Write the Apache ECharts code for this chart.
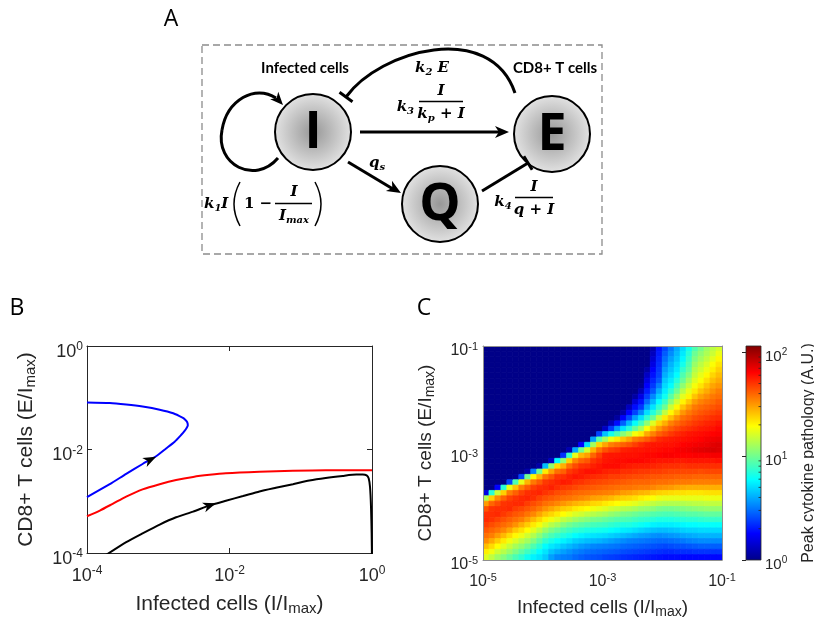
<!DOCTYPE html>
<html>
<head>
<meta charset="utf-8">
<title>Figure</title>
<script src="https://cdn.jsdelivr.net/npm/echarts@6.0.0/dist/echarts.min.js"></script>
<style>
html,body{margin:0;padding:0;background:#ffffff;}
#chart{width:814px;height:628px;}
</style>
</head>
<body>
<div id="chart"></div>
<script>
// ===== Panel B: phase-plane trajectories (log10 values) =====
const blueLogI  = [-4.00,-3.68,-3.45,-3.22,-3.03,-2.89,-2.77,-2.68,-2.63,-2.60,-2.585,-2.595,-2.625,-2.66,-2.79,-2.98,-3.22,-3.45,-3.68,-4.00];
const blueLogE  = [-2.92,-2.67,-2.47,-2.28,-2.13,-1.98,-1.85,-1.72,-1.64,-1.58,-1.53,-1.47,-1.42,-1.385,-1.30,-1.23,-1.17,-1.13,-1.10,-1.09];
const redLogI   = [-4.00,-3.82,-3.64,-3.45,-3.22,-2.98,-2.75,-2.51,-2.28,-2.05,-1.58,-1.11,-0.65,0.00];
const redLogE   = [-3.29,-3.18,-3.05,-2.91,-2.77,-2.67,-2.59,-2.53,-2.49,-2.46,-2.43,-2.41,-2.40,-2.40];
const blackLogI = [-3.78,-3.45,-3.22,-2.98,-2.75,-2.51,-2.28,-2.05,-1.81,-1.58,-1.35,-1.11,-0.88,-0.65,-0.41,-0.22,-0.13,-0.075,-0.047,-0.028,-0.014,-0.005,0.00];
const blackLogE = [-4.08,-3.79,-3.62,-3.45,-3.31,-3.20,-3.08,-2.99,-2.90,-2.81,-2.74,-2.67,-2.60,-2.55,-2.51,-2.485,-2.485,-2.50,-2.555,-2.72,-3.10,-3.62,-4.13];
// direction arrows on the trajectories: tip and a point behind the tip
const arrowTipLogI  = [-3.03, -2.19];
const arrowTipLogE  = [-2.14, -3.04];
const arrowBackLogI = [-3.25, -2.40];
const arrowBackLogE = [-2.29, -3.14];
const panelBTicks = [1e-4, 1e-2, 1];

// ===== Panel C: peak cytokine pathology (log10), one array per column of I, E from top to bottom =====
const heatLogI = [-4.95,-4.85,-4.75,-4.65,-4.55,-4.45,-4.35,-4.25,-4.15,-4.05,-3.95,-3.85,-3.75,-3.65,-3.55,-3.45,-3.35,-3.25,-3.15,-3.05,
                  -2.95,-2.85,-2.75,-2.65,-2.55,-2.45,-2.35,-2.25,-2.15,-2.05,-1.95,-1.85,-1.75,-1.65,-1.55,-1.45,-1.35,-1.25,-1.15,-1.05];
const heatLogE = [-1.05,-1.15,-1.25,-1.35,-1.45,-1.55,-1.65,-1.75,-1.85,-1.95,-2.05,-2.15,-2.25,-2.35,-2.45,-2.55,-2.65,-2.75,-2.85,-2.95,
                  -3.05,-3.15,-3.25,-3.35,-3.45,-3.55,-3.65,-3.75,-3.85,-3.95,-4.05,-4.15,-4.25,-4.35,-4.45,-4.55,-4.65,-4.75,-4.85,-4.95];
const heatHalfStep = 0.05;
const pathologyLog10ByColumn = [
 [0,0,0,0,0,0,0,0,0,0,0,0,0,0,0,0,0,0,0,0,0,0,0,0,0,0,0,0.20,1.12,1.49,1.64,1.71,1.72,1.68,1.63,1.58,1.52,1.42,1.32,1.22],
 [0,0,0,0,0,0,0,0,0,0,0,0,0,0,0,0,0,0,0,0,0,0,0,0,0,0,0,0.85,1.38,1.60,1.70,1.71,1.70,1.65,1.60,1.55,1.46,1.36,1.26,1.16],
 [0,0,0,0,0,0,0,0,0,0,0,0,0,0,0,0,0,0,0,0,0,0,0,0,0,0,0.26,1.18,1.52,1.65,1.71,1.72,1.67,1.62,1.57,1.49,1.39,1.29,1.19,1.09],
 [0,0,0,0,0,0,0,0,0,0,0,0,0,0,0,0,0,0,0,0,0,0,0,0,0,0,0.85,1.38,1.60,1.70,1.71,1.69,1.64,1.59,1.53,1.43,1.33,1.23,1.14,1.04],
 [0,0,0,0,0,0,0,0,0,0,0,0,0,0,0,0,0,0,0,0,0,0,0,0,0,0.39,1.24,1.55,1.67,1.71,1.72,1.66,1.61,1.56,1.47,1.36,1.26,1.17,1.08,0.98],
 [0,0,0,0,0,0,0,0,0,0,0,0,0,0,0,0,0,0,0,0,0,0,0,0,0.02,0.92,1.41,1.61,1.70,1.72,1.68,1.63,1.58,1.51,1.40,1.30,1.21,1.11,1.02,0.92],
 [0,0,0,0,0,0,0,0,0,0,0,0,0,0,0,0,0,0,0,0,0,0,0,0,0.39,1.24,1.55,1.67,1.72,1.72,1.66,1.61,1.55,1.45,1.35,1.25,1.15,1.06,0.96,0.87],
 [0,0,0,0,0,0,0,0,0,0,0,0,0,0,0,0,0,0,0,0,0,0,0,0.07,1.00,1.44,1.62,1.71,1.73,1.68,1.63,1.57,1.49,1.39,1.29,1.19,1.10,1.00,0.90,0.80],
 [0,0,0,0,0,0,0,0,0,0,0,0,0,0,0,0,0,0,0,0,0,0,0,0.52,1.30,1.56,1.68,1.72,1.71,1.65,1.60,1.53,1.43,1.33,1.23,1.13,1.03,0.93,0.84,0.75],
 [0,0,0,0,0,0,0,0,0,0,0,0,0,0,0,0,0,0,0,0,0,0,0.07,1.00,1.44,1.62,1.71,1.73,1.67,1.62,1.56,1.47,1.37,1.27,1.16,1.05,0.95,0.86,0.77,0.72],
 [0,0,0,0,0,0,0,0,0,0,0,0,0,0,0,0,0,0,0,0,0,0,0.64,1.33,1.57,1.69,1.72,1.70,1.64,1.58,1.51,1.41,1.31,1.20,1.08,0.97,0.87,0.77,0.72,0.67],
 [0,0,0,0,0,0,0,0,0,0,0,0,0,0,0,0,0,0,0,0,0,0.13,1.06,1.47,1.63,1.71,1.74,1.68,1.62,1.56,1.47,1.37,1.26,1.14,1.02,0.92,0.82,0.73,0.65,0.58],
 [0,0,0,0,0,0,0,0,0,0,0,0,0,0,0,0,0,0,0,0,0,0.77,1.36,1.58,1.70,1.73,1.71,1.65,1.60,1.53,1.43,1.33,1.22,1.10,0.98,0.88,0.78,0.70,0.61,0.53],
 [0,0,0,0,0,0,0,0,0,0,0,0,0,0,0,0,0,0,0,0,0.35,1.06,1.45,1.61,1.71,1.75,1.69,1.64,1.58,1.50,1.39,1.29,1.16,1.04,0.93,0.84,0.75,0.66,0.58,0.51],
 [0,0,0,0,0,0,0,0,0,0,0,0,0,0,0,0,0,0,0,0.09,0.89,1.38,1.58,1.69,1.74,1.74,1.68,1.62,1.57,1.47,1.37,1.25,1.13,1.00,0.90,0.81,0.72,0.63,0.55,0.50],
 [0,0,0,0,0,0,0,0,0,0,0,0,0,0,0,0,0,0,0,0.60,1.24,1.53,1.65,1.72,1.76,1.71,1.66,1.60,1.55,1.44,1.33,1.21,1.09,0.97,0.87,0.77,0.68,0.60,0.52,0.47],
 [0,0,0,0,0,0,0,0,0,0,0,0,0,0,0,0,0,0,0.26,1.00,1.43,1.60,1.70,1.75,1.75,1.70,1.64,1.59,1.53,1.42,1.31,1.19,1.06,0.95,0.85,0.75,0.66,0.57,0.50,0.45],
 [0,0,0,0,0,0,0,0,0,0,0,0,0,0,0,0,0,0,0.71,1.20,1.48,1.63,1.71,1.77,1.73,1.68,1.63,1.58,1.51,1.40,1.29,1.16,1.04,0.93,0.83,0.73,0.64,0.55,0.48,0.43],
 [0,0,0,0,0,0,0,0,0,0,0,0,0,0,0,0,0,0.58,1.10,1.44,1.60,1.70,1.74,1.77,1.72,1.67,1.62,1.57,1.48,1.37,1.26,1.14,1.01,0.91,0.82,0.72,0.63,0.53,0.47,0.42],
 [0,0,0,0,0,0,0,0,0,0,0,0,0,0,0,0,0.39,0.95,1.37,1.57,1.68,1.73,1.76,1.76,1.71,1.66,1.61,1.56,1.47,1.36,1.24,1.12,1.00,0.90,0.81,0.71,0.62,0.52,0.46,0.41],
 [0,0,0,0,0,0,0,0,0,0,0,0,0,0,0,0.13,0.65,1.10,1.47,1.64,1.75,1.76,1.78,1.74,1.70,1.65,1.60,1.55,1.45,1.33,1.22,1.10,0.98,0.89,0.80,0.70,0.60,0.51,0.45,0.39],
 [0,0,0,0,0,0,0,0,0,0,0,0,0,0,0.11,0.37,0.81,1.25,1.55,1.68,1.76,1.77,1.78,1.73,1.68,1.64,1.59,1.54,1.43,1.31,1.19,1.07,0.96,0.87,0.78,0.68,0.58,0.50,0.44,0.38],
 [0,0,0,0,0,0,0,0,0,0,0,0,0,0.05,0.28,0.57,0.92,1.33,1.58,1.70,1.76,1.78,1.78,1.73,1.68,1.63,1.58,1.52,1.40,1.29,1.17,1.05,0.94,0.85,0.76,0.66,0.56,0.49,0.43,0.37],
 [0,0,0,0,0,0,0,0,0,0,0,0,0.07,0.25,0.45,0.72,1.04,1.41,1.61,1.74,1.77,1.78,1.76,1.71,1.67,1.62,1.57,1.49,1.38,1.26,1.14,1.02,0.93,0.83,0.74,0.64,0.54,0.47,0.41,0.35],
 [0,0,0,0,0,0,0,0,0,0,0,0.12,0.26,0.40,0.63,0.85,1.13,1.47,1.64,1.75,1.77,1.79,1.75,1.71,1.66,1.61,1.57,1.48,1.37,1.25,1.13,1.01,0.92,0.83,0.73,0.62,0.52,0.46,0.40,0.34],
 [0,0,0,0,0,0,0,0,0,0.06,0.17,0.28,0.39,0.58,0.78,0.98,1.27,1.55,1.68,1.76,1.77,1.79,1.74,1.70,1.65,1.60,1.56,1.46,1.35,1.23,1.11,0.99,0.90,0.81,0.71,0.60,0.51,0.45,0.39,0.33],
 [0,0,0,0,0,0,0,0.02,0.10,0.20,0.29,0.37,0.53,0.71,0.90,1.11,1.33,1.58,1.72,1.76,1.78,1.79,1.74,1.69,1.65,1.60,1.55,1.44,1.32,1.20,1.08,0.97,0.88,0.79,0.69,0.58,0.50,0.44,0.38,0.32],
 [0,0,0,0,0.06,0.13,0.19,0.25,0.31,0.38,0.47,0.59,0.71,0.87,1.06,1.28,1.46,1.62,1.75,1.77,1.79,1.78,1.74,1.69,1.64,1.60,1.55,1.43,1.30,1.18,1.07,0.96,0.87,0.77,0.67,0.57,0.49,0.43,0.37,0.31],
 [0.08,0.12,0.16,0.20,0.25,0.29,0.33,0.37,0.43,0.53,0.62,0.72,0.84,0.99,1.22,1.40,1.54,1.67,1.76,1.77,1.79,1.77,1.73,1.68,1.63,1.59,1.53,1.40,1.28,1.16,1.05,0.94,0.85,0.75,0.65,0.55,0.48,0.42,0.36,0.30],
 [0.29,0.31,0.33,0.35,0.37,0.39,0.43,0.51,0.60,0.68,0.77,0.87,0.97,1.18,1.37,1.50,1.61,1.72,1.76,1.78,1.80,1.76,1.72,1.68,1.63,1.58,1.51,1.38,1.25,1.14,1.02,0.93,0.83,0.74,0.64,0.54,0.47,0.41,0.35,0.29],
 [0.40,0.44,0.48,0.52,0.57,0.61,0.66,0.70,0.74,0.80,0.89,0.99,1.16,1.33,1.45,1.57,1.65,1.74,1.77,1.79,1.81,1.76,1.71,1.67,1.62,1.58,1.50,1.37,1.24,1.13,1.01,0.92,0.83,0.74,0.64,0.55,0.47,0.40,0.34,0.28],
 [0.50,0.54,0.58,0.62,0.65,0.69,0.73,0.77,0.86,0.95,1.05,1.18,1.30,1.42,1.54,1.62,1.69,1.75,1.77,1.79,1.81,1.76,1.71,1.66,1.62,1.57,1.49,1.36,1.24,1.13,1.01,0.92,0.83,0.74,0.65,0.56,0.48,0.41,0.34,0.28],
 [0.60,0.63,0.66,0.70,0.73,0.77,0.84,0.91,0.99,1.09,1.19,1.30,1.40,1.51,1.59,1.66,1.72,1.76,1.78,1.81,1.80,1.75,1.71,1.66,1.61,1.56,1.47,1.35,1.24,1.13,1.02,0.93,0.84,0.75,0.66,0.57,0.49,0.42,0.35,0.28],
 [0.70,0.73,0.76,0.81,0.87,0.93,0.98,1.06,1.14,1.23,1.31,1.41,1.50,1.58,1.63,1.69,1.74,1.77,1.80,1.82,1.80,1.75,1.70,1.66,1.61,1.56,1.46,1.35,1.24,1.13,1.03,0.94,0.85,0.76,0.68,0.59,0.50,0.42,0.35,0.27],
 [0.81,0.85,0.89,0.93,0.97,1.03,1.10,1.17,1.24,1.31,1.40,1.49,1.56,1.61,1.66,1.71,1.76,1.78,1.81,1.83,1.80,1.76,1.71,1.66,1.61,1.56,1.45,1.34,1.24,1.14,1.04,0.95,0.86,0.77,0.69,0.60,0.52,0.43,0.35,0.27],
 [0.93,0.99,1.03,1.08,1.13,1.17,1.22,1.27,1.33,1.41,1.49,1.56,1.60,1.65,1.69,1.73,1.77,1.79,1.82,1.85,1.81,1.76,1.71,1.66,1.60,1.55,1.45,1.34,1.24,1.15,1.05,0.95,0.86,0.77,0.69,0.61,0.53,0.44,0.36,0.27],
 [1.01,1.06,1.10,1.15,1.19,1.24,1.28,1.34,1.41,1.48,1.54,1.59,1.63,1.67,1.71,1.75,1.78,1.80,1.83,1.86,1.81,1.76,1.71,1.65,1.60,1.55,1.45,1.34,1.24,1.15,1.06,0.96,0.87,0.78,0.70,0.62,0.54,0.45,0.36,0.27],
 [1.09,1.12,1.16,1.21,1.25,1.30,1.35,1.41,1.46,1.52,1.57,1.61,1.65,1.69,1.73,1.76,1.79,1.82,1.84,1.87,1.81,1.76,1.71,1.66,1.60,1.55,1.45,1.35,1.25,1.16,1.07,0.97,0.88,0.78,0.70,0.62,0.54,0.45,0.36,0.27],
 [1.15,1.18,1.23,1.28,1.32,1.37,1.42,1.47,1.51,1.56,1.59,1.63,1.67,1.71,1.74,1.77,1.80,1.83,1.86,1.88,1.82,1.76,1.71,1.66,1.60,1.55,1.45,1.35,1.25,1.16,1.07,0.97,0.88,0.78,0.70,0.62,0.54,0.45,0.36,0.27],
 [1.20,1.25,1.30,1.34,1.38,1.42,1.46,1.50,1.55,1.58,1.62,1.65,1.69,1.72,1.76,1.79,1.81,1.84,1.87,1.87,1.82,1.77,1.71,1.66,1.60,1.55,1.45,1.35,1.25,1.16,1.07,0.97,0.88,0.78,0.70,0.62,0.54,0.45,0.36,0.27]
];
const panelCTicks = [1e-5, 1e-3, 1e-1];
const colorbarMaxLog10 = 2.06;
const colorbarTicks = [1, 10, 100];
const colorbarMinorTicks = [2,3,4,5,6,7,8,9,20,30,40,50,60,70,80,90];
const jetColors = ['#000088','#0000ff','#0080ff','#00ffff','#80ff80','#ffff00','#ff8000','#ff0000','#800000'];

// ===== styling =====
const FONT = '"Liberation Sans", Arial, Helvetica, sans-serif';
const TXT = '#262626';
const MATH = '"DejaVu Serif", serif';

const toPow = (a) => Math.pow(10, a);
const pairs = (xs, ys) => xs.map((x, i) => [toPow(x), toPow(ys[i])]);

function powerFormatter(allowed) {
  return function (v) {
    const e = Math.round(Math.log10(v));
    const ok = allowed.some(t => Math.abs(Math.log10(t) - e) < 1e-6);
    return ok ? '{b|10}{s|' + e + '}' : '';
  };
}
function tickRich(base, sup, lh) {
  return {
    b: {fontSize: base, lineHeight: lh, fontFamily: FONT, color: TXT},
    s: {fontSize: sup, lineHeight: 4, verticalAlign: 'top', fontFamily: FONT, color: TXT}
  };
}
function nameRich(base, sub, lh, subLh) {
  return {
    a: {fontSize: base, lineHeight: lh, fontFamily: FONT, color: TXT},
    b: {fontSize: sub, lineHeight: subLh, verticalAlign: 'bottom', fontFamily: FONT, color: TXT}
  };
}

// heat cells: [I_lo, I_hi, E_lo, E_hi, log10 value]
const heatCells = [];
pathologyLog10ByColumn.forEach((column, c) => {
  column.forEach((val, r) => {
    heatCells.push([toPow(heatLogI[c] - heatHalfStep), toPow(heatLogI[c] + heatHalfStep),
                    toPow(heatLogE[r] - heatHalfStep), toPow(heatLogE[r] + heatHalfStep), val]);
  });
});
const cbMax = toPow(colorbarMaxLog10);

const arrowData = arrowTipLogI.map((x, i) => [toPow(x), toPow(arrowTipLogE[i]), toPow(arrowBackLogI[i]), toPow(arrowBackLogE[i])]);

function headPoints(tx, ty, fx, fy, len, hw) {
  const dx = tx - fx, dy = ty - fy, L = Math.hypot(dx, dy) || 1;
  const ux = dx / L, uy = dy / L, px = -uy, py = ux;
  const bx = tx - ux * len, by = ty - uy * len;
  const nx = tx - ux * len * 0.72, ny = ty - uy * len * 0.72;
  return [[tx, ty], [bx + px * hw, by + py * hw], [nx, ny], [bx - px * hw, by - py * hw]];
}
function tBar(x, y, fx, fy, half) {
  const dx = x - fx, dy = y - fy, L = Math.hypot(dx, dy);
  const px = -dy / L, py = dx / L;
  return {type: 'line', shape: {x1: x + px * half, y1: y + py * half, x2: x - px * half, y2: y - py * half},
          style: {stroke: '#000', lineWidth: 3}, silent: true};
}
function curve(x1, y1, cx1, cy1, cx2, cy2, x2, y2, w) {
  const shape = {x1: x1, y1: y1, cpx1: cx1, cpy1: cy1, x2: x2, y2: y2};
  if (cx2 != null) { shape.cpx2 = cx2; shape.cpy2 = cy2; }
  return {type: 'bezierCurve', shape: shape, style: {fill: null, stroke: '#000', lineWidth: w}, silent: true};
}

// ===== Panel A diagram (graphic elements) =====
const mathRich = {
  m: {fontFamily: MATH, fontStyle: 'italic', fontWeight: 'bold', fontSize: 15, lineHeight: 18, fill: '#000', color: '#000'},
  r: {fontFamily: MATH, fontWeight: 'bold', fontSize: 15, lineHeight: 18, fill: '#000', color: '#000'},
  sub: {fontFamily: MATH, fontStyle: 'italic', fontWeight: 'bold', fontSize: 10, lineHeight: 8, verticalAlign: 'bottom', fill: '#000', color: '#000'}
};
function mathText(x, y, text, align) {
  return {type: 'text', x: x, y: y, silent: true,
    style: {text: text, rich: mathRich, align: align || 'center', verticalAlign: 'middle',
            textAlign: align || 'center', textVerticalAlign: 'middle', fill: '#000'}};
}
function plainText(x, y, text, font, align) {
  return {type: 'text', x: x, y: y, silent: true,
    style: {text: text, font: font, fill: '#000', align: align || 'center', verticalAlign: 'middle',
            textAlign: align || 'center', textVerticalAlign: 'middle'}};
}
const ballFill = {type: 'radial', x: 0.5, y: 0.5, r: 0.5,
  colorStops: [{offset: 0, color: '#979797'}, {offset: 1, color: '#e3e3e3'}]};
function ball(cx, cy, letter) {
  return [
    {type: 'circle', shape: {cx: cx, cy: cy, r: 38}, style: {fill: ballFill, stroke: '#000', lineWidth: 2}, silent: true},
    plainText(cx, cy + 1, letter, 'bold 52px "Open Sans", "DejaVu Sans", sans-serif')
  ];
}
const diagram = [
  {type: 'rect', shape: {x: 202, y: 45, width: 400, height: 209}, style: {fill: null, stroke: '#8c8c8c', lineWidth: 1.3, lineDash: [7, 4]}, silent: true},
  ...ball(313, 132, 'I'), ...ball(552, 134, 'E'), ...ball(440, 204, 'Q'),
  // self-renewal loop
  curve(278, 158, 255, 185, 215, 165, 222, 130, 3),
  curve(222, 130, 227, 100, 255, 84, 276, 98, 3),
  {type: 'polygon', shape: {points: headPoints(283, 105, 272, 93, 13, 5.5)}, style: {fill: '#000'}, silent: true},
  // I -> E activation
  {type: 'line', shape: {x1: 360, y1: 132, x2: 500, y2: 132}, style: {stroke: '#000', lineWidth: 3}, silent: true},
  {type: 'polygon', shape: {points: headPoints(509, 132, 360, 132, 14, 6)}, style: {fill: '#000'}, silent: true},
  // I -> Q
  {type: 'line', shape: {x1: 348, y1: 162, x2: 393, y2: 189}, style: {stroke: '#000', lineWidth: 3}, silent: true},
  {type: 'polygon', shape: {points: headPoints(401, 193, 348, 162, 14, 6)}, style: {fill: '#000'}, silent: true},
  // E -| I (killing)
  curve(515, 93, 490, 20, 380, 50, 346, 97, 3),
  tBar(346, 97, 380, 50, 8),
  // Q -| E (exhaustion)
  {type: 'line', shape: {x1: 482, y1: 191, x2: 528, y2: 163}, style: {stroke: '#000', lineWidth: 3}, silent: true},
  tBar(528, 163, 482, 191, 8),
  // labels
  plainText(305, 68, 'Infected cells', 'bold 15px Lato, "Open Sans", sans-serif'),
  plainText(555, 68, 'CD8+ T cells', 'bold 15px Lato, "Open Sans", sans-serif'),
  mathText(432, 68, '{m|k}{sub|2}{m| E}'),
  mathText(414, 107, '{m|k}{sub|3}', 'right'),
  mathText(441, 91, '{m|I}'),
  {type: 'line', shape: {x1: 419, y1: 101.5, x2: 463, y2: 101.5}, style: {stroke: '#000', lineWidth: 1.4}, silent: true},
  mathText(441, 114, '{m|k}{sub|p}{r| + }{m|I}'),
  mathText(377, 163, '{m|q}{sub|s}'),
  mathText(204, 204, '{m|k}{sub|1}{m|I}', 'left'),
  curve(240, 182, 228, 204, null, null, 240, 226, 1.5),
  mathText(258, 204, '{r|1 −}'),
  {type: 'line', shape: {x1: 275, y1: 203.5, x2: 312, y2: 203.5}, style: {stroke: '#000', lineWidth: 1.4}, silent: true},
  mathText(294, 192, '{m|I}'),
  mathText(294, 216, '{m|I}{sub|max}'),
  curve(315, 182, 327, 204, null, null, 315, 226, 1.5),
  mathText(503, 202, '{m|k}{sub|4}'),
  mathText(534, 187, '{m|I}'),
  {type: 'line', shape: {x1: 515, y1: 197.5, x2: 553, y2: 197.5}, style: {stroke: '#000', lineWidth: 1.4}, silent: true},
  mathText(534, 210, '{m|q}{r| + }{m|I}'),
  // panel letters
  plainText(171, 19, 'A', '23px "Open Sans", sans-serif'),
  plainText(17, 308, 'B', '23px "Open Sans", sans-serif'),
  plainText(424, 308, 'C', '23px "Open Sans", sans-serif')
];

// ===== axes helpers =====
function boxAxis(grid, pos, min, max, opts) {
  return Object.assign({
    gridIndex: grid, type: 'log', logBase: 10, min: min, max: max, position: pos,
    axisLine: {show: true, onZero: false, lineStyle: {color: TXT, width: 1}},
    axisTick: {show: false}, axisLabel: {show: false}, splitLine: {show: false},
    minorTick: {show: false}, minorSplitLine: {show: false}
  }, opts || {});
}

const chart = echarts.init(document.getElementById('chart'), null, {renderer: 'canvas'});
const option = {
  animation: false,
  backgroundColor: '#ffffff',
  textStyle: {fontFamily: FONT},
  grid: [
    {left: 87, top: 346, width: 285, height: 207, outerBoundsMode: 'none', containLabel: false},
    {left: 483, top: 346, width: 239, height: 214, outerBoundsMode: 'none', containLabel: false},
    {left: 746, top: 346, width: 15, height: 214, outerBoundsMode: 'none', containLabel: false}
  ],
  xAxis: [
    boxAxis(0, 'bottom', 1e-4, 1, {
      axisTick: {show: true, inside: true, length: 5, customValues: panelBTicks, lineStyle: {color: TXT}},
      axisLabel: {show: true, customValues: panelBTicks, formatter: powerFormatter(panelBTicks), margin: 12, rich: tickRich(18, 12, 22)},
      name: '{a|Infected cells (I/I}{b|max}{a|)}', nameLocation: 'middle', nameGap: 39,
      nameTextStyle: {rich: nameRich(21, 15, 24, 6)}
    }),
    boxAxis(0, 'top', 1e-4, 1, {
      axisTick: {show: true, inside: true, length: 5, customValues: panelBTicks, lineStyle: {color: TXT}}
    }),
    boxAxis(1, 'bottom', 1e-5, 1e-1, {
      z: 5,
      axisLine: {show: true, onZero: false, lineStyle: {color: '#8f8f8f', width: 1}},
      axisLabel: {show: true, customValues: panelCTicks, formatter: powerFormatter(panelCTicks), margin: 12, rich: tickRich(16, 11, 20)},
      name: '{a|Infected cells (I/I}{b|max}{a|)}', nameLocation: 'middle', nameGap: 37,
      nameTextStyle: {rich: nameRich(19, 14, 22, 6)}
    }),
    boxAxis(1, 'top', 1e-5, 1e-1, {z: 5, axisLine: {show: true, onZero: false, lineStyle: {color: '#8f8f8f', width: 1}}}),
    {gridIndex: 2, type: 'value', min: 0, max: 1, show: false}
  ],
  yAxis: [
    boxAxis(0, 'left', 1e-4, 1, {
      axisTick: {show: true, inside: true, length: 5, customValues: panelBTicks, lineStyle: {color: TXT}},
      axisLabel: {show: true, customValues: panelBTicks, formatter: powerFormatter(panelBTicks), margin: 4, padding: [12, 0, 0, 0], rich: tickRich(18, 12, 22)},
      name: '{a|CD8+ T cells (E/I}{b|max}{a|)}', nameLocation: 'middle', nameGap: 49,
      nameTextStyle: {rich: nameRich(21, 15, 24, 6)}
    }),
    boxAxis(0, 'right', 1e-4, 1, {
      axisTick: {show: true, inside: true, length: 5, customValues: panelBTicks, lineStyle: {color: TXT}}
    }),
    boxAxis(1, 'left', 1e-5, 1e-1, {
      z: 5,
      axisLine: {show: true, onZero: false, lineStyle: {color: '#8f8f8f', width: 1}},
      axisLabel: {show: true, customValues: panelCTicks, formatter: powerFormatter(panelCTicks), margin: 5, padding: [10, 0, 0, 0], rich: tickRich(16, 11, 20)},
      name: '{a|CD8+ T cells (E/I}{b|max}{a|)}', nameLocation: 'middle', nameGap: 46,
      nameTextStyle: {rich: nameRich(19, 14, 22, 6)}
    }),
    boxAxis(1, 'right', 1e-5, 1e-1, {z: 5, axisLine: {show: true, onZero: false, lineStyle: {color: '#8f8f8f', width: 1}}}),
    {
      gridIndex: 2, type: 'log', logBase: 10, min: 1, max: cbMax, position: 'right', z: 5,
      axisLine: {show: false},
      axisTick: {show: true, inside: true, length: 4, customValues: colorbarTicks, lineStyle: {color: TXT}},
      axisLabel: {show: true, customValues: colorbarTicks, formatter: powerFormatter(colorbarTicks), margin: 4, padding: [10, 0, 0, 0], rich: tickRich(15, 10, 19)},
      splitLine: {show: false}, minorTick: {show: false},
      name: 'Peak cytokine pathology (A.U.)', nameLocation: 'middle', nameGap: 40,
      nameTextStyle: {fontSize: 16, color: TXT, fontFamily: FONT}
    }
  ],
  visualMap: [{
    type: 'continuous', show: false, min: 0, max: colorbarMaxLog10, dimension: 4, seriesIndex: 4,
    inRange: {color: jetColors}
  }],
  series: [
    {type: 'line', xAxisIndex: 0, yAxisIndex: 0, data: pairs(blueLogI, blueLogE), showSymbol: false, symbol: 'none',
     smooth: 0.2, clip: true, lineStyle: {color: '#0000ff', width: 2}, itemStyle: {color: '#0000ff'}},
    {type: 'line', xAxisIndex: 0, yAxisIndex: 0, data: pairs(redLogI, redLogE), showSymbol: false, symbol: 'none',
     smooth: 0.25, clip: true, lineStyle: {color: '#ff0000', width: 2}, itemStyle: {color: '#ff0000'}},
    {type: 'line', xAxisIndex: 0, yAxisIndex: 0, data: pairs(blackLogI, blackLogE), showSymbol: false, symbol: 'none',
     smooth: 0.2, clip: true, lineStyle: {color: '#000000', width: 2}, itemStyle: {color: '#000000'}},
    {type: 'custom', xAxisIndex: 0, yAxisIndex: 0, data: arrowData, encode: {x: [0, 2], y: [1, 3]}, z: 4,
     renderItem: function (params, api) {
       const tip = api.coord([api.value(0), api.value(1)]);
       const back = api.coord([api.value(2), api.value(3)]);
       return {type: 'polygon', shape: {points: headPoints(tip[0], tip[1], back[0], back[1], 13, 5)}, style: {fill: '#000'}};
     }},
    {type: 'custom', xAxisIndex: 2, yAxisIndex: 2, data: heatCells, encode: {x: [0, 1], y: [2, 3]}, clip: true,
     renderItem: function (params, api) {
       const a = api.coord([api.value(0), api.value(3)]);
       const b = api.coord([api.value(1), api.value(2)]);
       const col = api.visual('color');
       return {type: 'rect', shape: {x: a[0], y: a[1], width: b[0] - a[0], height: b[1] - a[1]},
               style: {fill: col, stroke: col, lineWidth: 0.8}};
     }},
    {type: 'custom', xAxisIndex: 4, yAxisIndex: 4, data: [[0, 1, 1, cbMax]], encode: {x: [0, 1], y: [2, 3]}, z: 2,
     renderItem: function (params, api) {
       const a = api.coord([api.value(0), api.value(3)]);
       const b = api.coord([api.value(1), api.value(2)]);
       const stops = jetColors.map((c, i) => ({offset: i / (jetColors.length - 1), color: c}));
       return {type: 'rect', shape: {x: a[0], y: a[1], width: b[0] - a[0], height: b[1] - a[1]},
               style: {fill: new echarts.graphic.LinearGradient(0, 1, 0, 0, stops), stroke: TXT, lineWidth: 0.8}};
     }},
    {type: 'custom', xAxisIndex: 4, yAxisIndex: 4, data: colorbarMinorTicks.map(v => [1, v]), encode: {x: 0, y: 1}, z: 6,
     renderItem: function (params, api) {
       const p = api.coord([api.value(0), api.value(1)]);
       return {type: 'line', shape: {x1: p[0], y1: p[1], x2: p[0] - 2.5, y2: p[1]}, style: {stroke: TXT, lineWidth: 0.8}};
     }}
  ],
  graphic: {elements: diagram}
};
chart.setOption(option);
</script>
</body>
</html>
